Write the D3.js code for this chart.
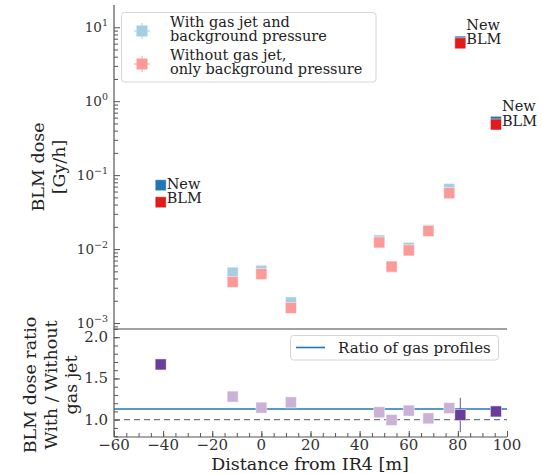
<!DOCTYPE html>
<html lang="en">
	<head>
		<meta charset="utf-8">
		<title>BLM dose vs distance from IR4</title>
		<script src="https://cdnjs.cloudflare.com/ajax/libs/d3/7.1.1/d3.min.js"></script>
		<style type="text/css">
		body{
			margin: 0;
			background: white;
		}
		</style>
	</head>
	<body>
		<div id="viz"></div>
		<script type="text/javascript">
			// distance of each BLM from IR4 [m]
			const positions = [-41, -11.7, 0, 12, 48, 53, 60, 68, 76.5, 81, 95.5];
			const isNewBLM = [true, false, false, false, false, false, false, false, false, true, true];
			// dose [Gy/h]
			const doseWithJet = [0.073, 0.0048, 0.0051, 0.0019, 0.0131, 0.0057, 0.0104, 0.018, 0.065, 6.4, 0.527];
			const doseWithoutJet = [0.043, 0.0036, 0.0046, 0.0016, 0.0123, 0.0058, 0.0096, 0.0175, 0.057, 6.07, 0.484];
			// ratio with / without
			const doseRatio = [1.67, 1.28, 1.146, 1.21, 1.09, 0.996, 1.11, 1.016, 1.14, 1.057, 1.10];
			const ratioErr = [0, 0, 0, 0, 0, 0, 0, 0, 0, 0.21, 0];
			const gasProfileRatio = 1.13;

			const xTicks = [-60, -40, -20, 0, 20, 40, 60, 80, 100];
			const logTicks = [-3, -2, -1, 0, 1];
			const ratioTicks = [1.0, 1.5, 2.0];

			const width = 543;
			const height = 474;
			const left = 114;
			const right = 507;
			const topY = 5;
			const split = 329;
			const bottom = 437;
			const axisColor = "#555";
			const markerSize = 11;
			const serif = "\"DejaVu Serif\", serif";

			const svg = d3.select("#viz")
				.append("svg")
				.attr("width", width)
				.attr("height", height);

			// every text gets the serif face set on itself
			function label(sel, size, color) {
				return sel.attr("font-size", size)
					.attr("fill", color || "#222")
					.style("font-family", serif);
			}

			const x = d3.scaleLinear().domain([-60, 100]).range([left, right]);
			const yTop = d3.scaleLog().domain([8.3e-4, 20]).range([split, topY]);
			const yBot = d3.scaleLinear().domain([0.79, 2.1]).range([bottom, split]);

			// ---------- top panel ----------
			// minor log ticks
			const minorLog = [];
			for (let e = -4; e <= 1; e++) {
				for (let m = 2; m <= 9; m++) {
					const v = m * Math.pow(10, e);
					if (v > 8.3e-4 && v < 20) minorLog.push(v);
				}
			}
			svg.append("g")
				.attr("transform", `translate(${left},0)`)
				.call(d3.axisRight(yTop).tickValues(minorLog).tickSize(4).tickFormat(""))
				.call(g => g.select(".domain").remove())
				.call(g => g.selectAll("line").attr("stroke", axisColor));

			svg.append("g")
				.attr("transform", `translate(${left},0)`)
				.call(d3.axisRight(yTop).tickValues(logTicks.map(e => Math.pow(10, e))).tickSize(6).tickFormat(""))
				.call(g => g.select(".domain").remove())
				.call(g => g.selectAll("line").attr("stroke", axisColor));

			const logLabels = svg.append("g")
				.selectAll("text")
				.data(logTicks)
				.enter()
				.append("text")
					.attr("x", left - 6)
					.attr("y", d => yTop(Math.pow(10, d)) + 5)
					.attr("text-anchor", "end")
					.call(label, 13.5, "#333");
			logLabels.append("tspan").text("10");
			logLabels.append("tspan")
				.attr("dy", -6)
				.attr("font-size", 9.5)
				.style("font-family", serif)
				.text(d => d < 0 ? "\u2212" + (-d) : d);

			svg.append("line")
				.attr("x1", left).attr("x2", left)
				.attr("y1", topY).attr("y2", bottom)
				.attr("stroke", axisColor).attr("stroke-width", 1.2);
			svg.append("line")
				.attr("x1", left).attr("x2", right)
				.attr("y1", split).attr("y2", split)
				.attr("stroke", "#444").attr("stroke-width", 1.2);

			const idx = d3.range(positions.length);

			function squares(g, yFn, colorFn) {
				g.selectAll("rect")
					.data(idx)
					.enter()
					.append("rect")
						.attr("x", i => x(positions[i]) - markerSize / 2)
						.attr("y", i => yFn(i) - markerSize / 2)
						.attr("width", markerSize)
						.attr("height", markerSize)
						.attr("fill", colorFn)
						.attr("stroke", "white")
						.attr("stroke-opacity", 0.6)
						.attr("stroke-width", 0.8);
			}

			svg.append("g").call(squares, i => yTop(doseWithJet[i]), i => isNewBLM[i] ? "#1f78b4" : "#a6cee3");
			svg.append("g").call(squares, i => yTop(doseWithoutJet[i]), i => isNewBLM[i] ? "#e31a1c" : "#fb9a99");

			// "New BLM" annotations
			const newIdx = idx.filter(i => isNewBLM[i]);
			const ann = svg.append("g")
				.selectAll("g")
				.data(newIdx)
				.enter()
				.append("g")
					.attr("transform", i => `translate(${x(positions[i]) + 6},${yTop(doseWithoutJet[i]) + 1})`);
			ann.append("text").attr("y", -14.5).call(label, 14.5).text("New");
			ann.append("text").attr("y", 0).call(label, 14.5).text("BLM");

			// top legend
			const leg = svg.append("g");
			leg.append("rect")
				.attr("x", 121.5).attr("y", 12.5)
				.attr("width", 254.5).attr("height", 69.5)
				.attr("rx", 3)
				.attr("fill", "white").attr("fill-opacity", 0.85)
				.attr("stroke", "#d6d6d6");
			const legItems = [
				{color: "#a6cee3", y: 31, lines: ["With gas jet and", "background pressure"]},
				{color: "#fb9a99", y: 64, lines: ["Without gas jet,", "only background pressure"]}
			];
			legItems.forEach(item => {
				leg.append("line")
					.attr("x1", 142).attr("x2", 142)
					.attr("y1", item.y - 8).attr("y2", item.y + 8)
					.attr("stroke", item.color).attr("stroke-width", 1);
				leg.append("line")
					.attr("x1", 134).attr("x2", 150)
					.attr("y1", item.y).attr("y2", item.y)
					.attr("stroke", item.color).attr("stroke-width", 1);
				leg.append("rect")
					.attr("x", 142 - 5.5).attr("y", item.y - 5.5)
					.attr("width", 11).attr("height", 11)
					.attr("fill", item.color);
				item.lines.forEach((t, k) => {
					leg.append("text")
						.attr("x", 170)
						.attr("y", item.y - 4 + k * 14)
						.call(label, 14.5)
						.text(t);
				});
			});

			svg.append("g")
				.attr("transform", "translate(44,167) rotate(-90)")
				.selectAll("text")
				.data(["BLM dose", "[Gy/h]"])
				.enter()
				.append("text")
					.attr("y", (d, i) => i * 21)
					.attr("text-anchor", "middle")
					.call(label, 17.5)
					.text(d => d);

			// ---------- bottom panel ----------
			svg.append("g")
				.attr("transform", `translate(${left},0)`)
				.call(d3.axisRight(yBot).tickValues(d3.range(8, 22).map(v => v / 10)).tickSize(4).tickFormat(""))
				.call(g => g.select(".domain").remove())
				.call(g => g.selectAll("line").attr("stroke", axisColor));
			svg.append("g")
				.attr("transform", `translate(${left},0)`)
				.call(d3.axisRight(yBot).tickValues(ratioTicks).tickSize(6).tickFormat(""))
				.call(g => g.select(".domain").remove())
				.call(g => g.selectAll("line").attr("stroke", axisColor));
			svg.append("g")
				.selectAll("text")
				.data(ratioTicks)
				.enter()
				.append("text")
					.attr("x", left - 6)
					.attr("y", d => yBot(d) + 5)
					.attr("text-anchor", "end")
					.call(label, 15, "#333")
					.text(d => d.toFixed(1));

			// x axis
			svg.append("g")
				.attr("transform", `translate(0,${bottom})`)
				.call(d3.axisTop(x).tickValues(d3.range(-60, 101, 5)).tickSize(4).tickFormat(""))
				.call(g => g.select(".domain").remove())
				.call(g => g.selectAll("line").attr("stroke", axisColor));
			svg.append("g")
				.attr("transform", `translate(0,${bottom})`)
				.call(d3.axisTop(x).tickValues(xTicks).tickSize(6).tickFormat(""))
				.call(g => g.select(".domain").remove())
				.call(g => g.selectAll("line").attr("stroke", axisColor));
			svg.append("line")
				.attr("x1", left).attr("x2", right)
				.attr("y1", bottom).attr("y2", bottom)
				.attr("stroke", axisColor).attr("stroke-width", 1.2);
			svg.append("g")
				.selectAll("text")
				.data(xTicks)
				.enter()
				.append("text")
					.attr("x", d => x(d))
					.attr("y", bottom + 13)
					.attr("text-anchor", "middle")
					.call(label, 15, "#333")
					.text(d => d < 0 ? "\u2212" + (-d) : d);

			svg.append("text")
				.attr("x", 310)
				.attr("y", 470)
				.attr("text-anchor", "middle")
				.call(label, 17.5)
				.text("Distance from IR4 [m]");

			// reference lines
			svg.append("line")
				.attr("x1", left).attr("x2", right)
				.attr("y1", yBot(1)).attr("y2", yBot(1))
				.attr("stroke", "#777").attr("stroke-width", 1.3)
				.attr("stroke-dasharray", "6,4");
			svg.append("line")
				.attr("x1", left).attr("x2", right)
				.attr("y1", yBot(gasProfileRatio)).attr("y2", yBot(gasProfileRatio))
				.attr("stroke", "#1f77b4").attr("stroke-width", 1.6);

			// error bars
			svg.append("g")
				.selectAll("line")
				.data(idx.filter(i => ratioErr[i] > 0))
				.enter()
				.append("line")
					.attr("x1", i => x(positions[i])).attr("x2", i => x(positions[i]))
					.attr("y1", i => yBot(doseRatio[i] + ratioErr[i]))
					.attr("y2", i => yBot(Math.max(doseRatio[i] - ratioErr[i], 0.79)))
					.attr("stroke", "#6a3d9a").attr("stroke-opacity", 0.8).attr("stroke-width", 1.2);

			svg.append("g").call(squares, i => yBot(doseRatio[i]), i => isNewBLM[i] ? "#6a3d9a" : "#cab2d6");

			// bottom legend
			const leg2 = svg.append("g");
			leg2.append("rect")
				.attr("x", 290.5).attr("y", 335.5)
				.attr("width", 208).attr("height", 24.5)
				.attr("rx", 3)
				.attr("fill", "white").attr("fill-opacity", 0.85)
				.attr("stroke", "#d6d6d6");
			leg2.append("line")
				.attr("x1", 296).attr("x2", 325)
				.attr("y1", 347.5).attr("y2", 347.5)
				.attr("stroke", "#1f77b4").attr("stroke-width", 1.6);
			leg2.append("text")
				.attr("x", 338)
				.attr("y", 352.5)
				.call(label, 15)
				.text("Ratio of gas profiles");

			svg.append("g")
				.attr("transform", "translate(36,385) rotate(-90)")
				.selectAll("text")
				.data(["BLM dose ratio", "With / Without", "gas jet"])
				.enter()
				.append("text")
					.attr("y", (d, i) => i * 20.5)
					.attr("text-anchor", "middle")
					.call(label, 17.5)
					.text(d => d);
		</script>
	</body>
</html>
